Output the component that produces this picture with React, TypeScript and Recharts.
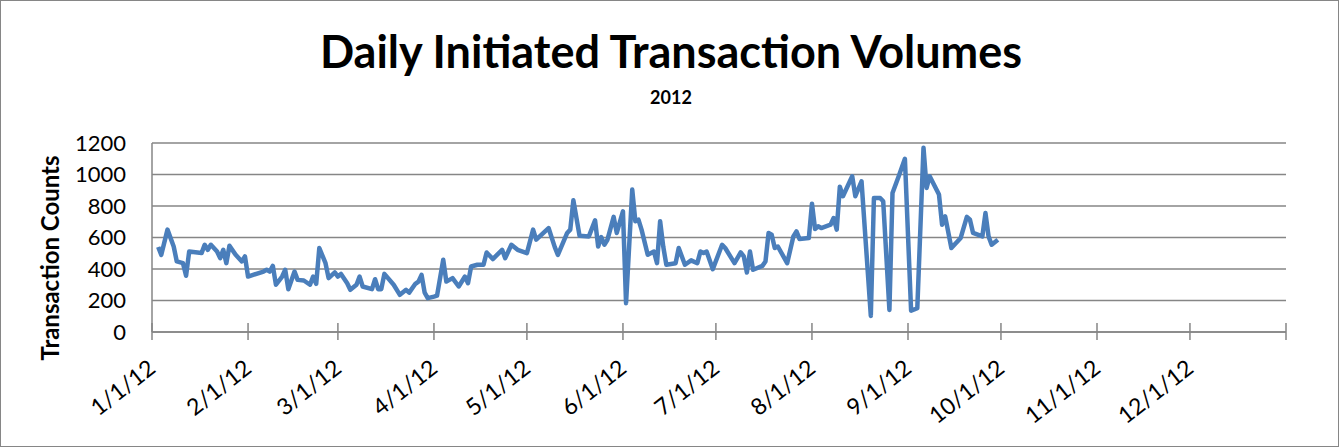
import React from "react";
import { LineChart, Line, XAxis, YAxis, CartesianGrid } from "recharts";

// day of year (0 = 1/1/12) for each reading
const days = [
  2, 3, 5, 7, 8, 10, 11, 12, 16, 17, 18, 19, 21, 22, 23, 24, 25, 27, 29, 30,
  31, 36, 37, 38, 39, 40, 42, 43, 44, 46, 47, 49, 51, 52, 53, 54, 56, 57, 59,
  60, 61, 63, 64, 66, 67, 68, 71, 72, 73, 74, 75, 78, 80, 82, 83, 85, 86, 87,
  88, 89, 91, 92, 94, 95, 97, 99, 101, 102, 103, 105, 107, 108, 110, 113, 114,
  116, 118, 121, 123, 124, 128, 130, 131, 134, 135, 136, 138, 141, 143, 144,
  145, 146, 147, 149, 150, 152, 153, 155, 156, 157, 158, 160, 162, 163, 164,
  165, 166, 169, 170, 172, 174, 176, 177, 178, 179, 181, 184, 185, 188, 190,
  191, 192, 193, 194, 197, 198, 199, 200, 201, 202, 205, 207, 208, 209, 212,
  213, 214, 215, 216, 219, 220, 221, 222, 223, 226, 227, 229, 232, 233, 235,
  236, 238, 239, 241, 243, 245, 247, 249, 250, 251, 254, 255, 256, 258, 261,
  263, 264, 265, 268, 269, 270, 271, 273,
];

const counts = [
  540, 490, 650, 543, 448, 437, 357, 511, 501, 554, 522, 554, 511, 469, 522,
  437, 548, 490, 448, 480, 352, 384, 395, 384, 420, 300, 352, 395, 272, 384,
  331, 327, 300, 352, 306, 533, 437, 342, 378, 352, 369, 310, 268, 300, 352,
  289, 272, 335, 272, 272, 369, 300, 236, 268, 250, 306, 320, 363, 250, 215,
  225, 231, 459, 320, 342, 289, 352, 310, 416, 427, 427, 505, 463, 522, 469,
  554, 522, 501, 650, 586, 660, 539, 490, 629, 650, 836, 611, 607, 709, 543,
  603, 554, 586, 731, 629, 766, 183, 904, 703, 713, 650, 490, 511, 437, 703,
  543, 427, 437, 533, 427, 455, 437, 511, 501, 511, 399, 554, 533, 437, 505,
  480, 378, 511, 395, 420, 448, 629, 618, 533, 543, 437, 607, 639, 590, 597,
  815, 654, 671, 660, 681, 724, 650, 922, 862, 989, 862, 957, 102, 851, 851,
  830, 140, 883, 989, 1100, 135, 151, 1170, 915, 989, 873, 681, 734, 533, 597,
  731, 713, 629, 607, 756, 607, 554, 586,
];

const monthStarts = [0, 31, 60, 91, 121, 152, 182, 213, 244, 274, 305, 335, 366];
const monthLabels = [
  "1/1/12", "2/1/12", "3/1/12", "4/1/12", "5/1/12", "6/1/12", "7/1/12",
  "8/1/12", "9/1/12", "10/1/12", "11/1/12", "12/1/12", "",
];
const yTicks = [0, 200, 400, 600, 800, 1000, 1200];

const data = days.map((d, i) => ({ day: d, count: counts[i] }));

const FONT = "Lato, 'Open Sans', sans-serif";
const GRID = "#868686";

const DateTick = (props: any) => {
  const { x, y, payload } = props;
  const idx = monthStarts.indexOf(payload.value);
  const label = monthLabels[idx] ?? "";
  return (
    <g transform={`translate(${x},${y})`}>
      <line x1={0} x2={0} y1={-9} y2={8} stroke={GRID} strokeWidth={1.5} />
      {label && (
        <text
          transform="translate(5,39) rotate(-38)"
          textAnchor="end"
          fontFamily={FONT}
          fontSize={23}
          fill="#000"
        >
          {label}
        </text>
      )}
    </g>
  );
};

export default function App() {
  return (
    <div
      style={{
        position: "relative",
        width: 1339,
        height: 447,
        boxSizing: "border-box",
        border: `1.5px solid ${GRID}`,
        background: "#fff",
        fontFamily: FONT,
      }}
    >
      <style>{`body{margin:0}`}</style>
      <div
        style={{
          position: "absolute",
          left: 0,
          top: 28,
          width: 1340,
          textAlign: "center",
          fontSize: 45,
          lineHeight: "45px",
          fontWeight: 700,
        }}
      >
        Daily Initiated Transaction Volumes
      </div>
      <div
        style={{
          position: "absolute",
          left: 0,
          top: 87,
          width: 1340,
          textAlign: "center",
          fontSize: 18,
          lineHeight: "18px",
          fontWeight: 700,
        }}
      >
        2012
      </div>
      <div
        style={{
          position: "absolute",
          left: 49,
          top: 257,
          transform: "translate(-50%,-50%) rotate(-90deg)",
          whiteSpace: "nowrap",
          fontSize: 24,
          lineHeight: "24px",
          fontWeight: 700,
        }}
      >
        Transaction Counts
      </div>
      <div style={{ position: "absolute", left: -1.5, top: -1.5 }}>
        <LineChart
          width={1340}
          height={448}
          data={data}
          margin={{ top: 143, right: 54, bottom: 56, left: 52 }}
        >
          <CartesianGrid
            vertical={false}
            stroke={GRID}
            strokeWidth={1.5}
          />
          <XAxis
            dataKey="day"
            type="number"
            domain={[0, 366]}
            ticks={monthStarts}
            interval={0}
            height={60}
            tickLine={false}
            tickSize={0}
            tickMargin={0}
            axisLine={{ stroke: GRID, strokeWidth: 1.5 }}
            tick={<DateTick />}
          />
          <YAxis
            type="number"
            domain={[0, 1200]}
            ticks={yTicks}
            interval={0}
            width={100}
            tickLine={false}
            tickSize={0}
            tickMargin={26}
            axisLine={{ stroke: GRID, strokeWidth: 1.5 }}
            tick={{ fill: "#000", fontSize: 22, fontFamily: FONT }}
          />
          <Line
            type="linear"
            dataKey="count"
            stroke="#4a7ebb"
            strokeWidth={4.5}
            strokeLinejoin="round"
            dot={false}
            isAnimationActive={false}
          />
        </LineChart>
      </div>
    </div>
  );
}
